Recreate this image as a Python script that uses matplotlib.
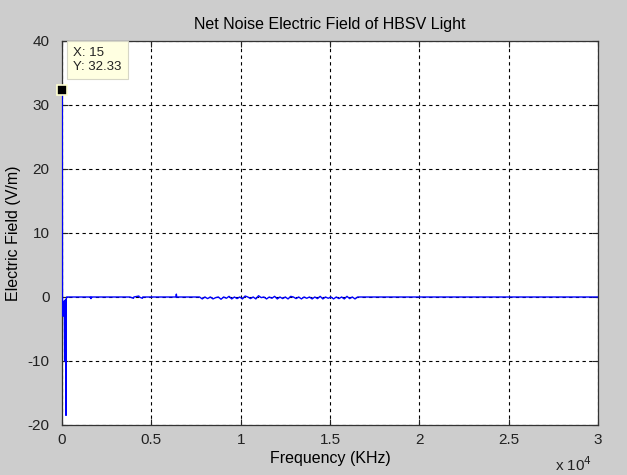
import matplotlib
matplotlib.use("Agg")
from matplotlib import pyplot as plt

plt.rcParams['font.family'] = ['Liberation Sans', 'DejaVu Sans']
plt.rcParams['axes.unicode_minus'] = False

# low-frequency part (Hz), where the big spikes are
freq_low = [0, 15, 25, 35, 45, 55, 65, 75, 85, 95, 110, 130, 150, 165, 180,
            195, 210, 224, 240, 260, 300, 1000, 1600, 1620, 1640, 3800, 4000,
            4020, 4300, 4320, 4500, 4520, 6000, 6380, 6400, 6420, 7700]
field_low = [0.0, 32.33, -1.0, -2.8, -0.6, -3.0, -0.8, -2.5, -1.2, -2.0,
             -0.9, -1.8, -10.0, -0.5, -2.2, -1.0, -0.4, -18.5, -0.3, 0.0,
             0.0, 0.0, 0.0, -0.25, 0.0, 0.0, -0.2, 0.0, 0.15, 0.0, -0.2, 0.0,
             0.0, 0.0, 0.45, 0.0, 0.0]

# noisy band from 7.85 kHz to 16.6 kHz, 150 Hz steps
freq_band = list(range(7850, 16700, 150))
field_band = [-0.3, 0.0, -0.25, 0.0, -0.3, -0.1, 0.0, -0.35, 0.0, -0.2,
              0.1, -0.3, 0.0, -0.25, 0.0, -0.3, 0.15, 0.0, -0.25, 0.0,
              -0.3, 0.2, -0.1, 0.0, -0.3, 0.0, -0.2, 0.1, -0.3, 0.0,
              -0.25, 0.0, -0.3, 0.1, 0.0, -0.25, 0.0, -0.3, 0.0, -0.2,
              0.0, -0.3, 0.0, -0.25, 0.1, -0.3, 0.0, -0.2, 0.0, -0.3,
              0.0, -0.25, 0.0, -0.3, 0.1, -0.25, 0.0, -0.3, 0.0, 0.0]

# flat tail up to 30 kHz
freq_high = [16800, 20000, 25000, 30000]
field_high = [0.0, 0.0, 0.0, 0.0]

freq = freq_low + freq_band + freq_high
field = field_low + field_band[:len(freq_band)] + field_high

x_ticks = [0, 5000, 10000, 15000, 20000, 25000, 30000]
x_tick_labels = ['0', '0.5', '1', '1.5', '2', '2.5', '3']
y_ticks = [-20, -10, 0, 10, 20, 30, 40]

tip_x, tip_y = 15, 32.33

fig = plt.figure(figsize=(6.27, 4.75), dpi=100, facecolor='#cdcdcd')
ax = fig.add_axes([62 / 627, 1 - 425 / 475, 536 / 627, 384 / 475])
ax.set_facecolor('white')

ax.plot(freq, field, color='#0000ff', linewidth=1.0, zorder=3)

ax.set_xlim(0, 30000)
ax.set_ylim(-20, 40)
ax.set_xticks(x_ticks)
ax.set_xticklabels(x_tick_labels)
ax.set_yticks(y_ticks)
ax.tick_params(direction='in', top=True, right=True, length=4, width=0.8,
               labelsize=11, colors='#222222', pad=9)
ax.tick_params(axis='x', pad=6)
for s in ax.spines.values():
    s.set_color('#333333')
    s.set_linewidth(0.9)

ax.grid(True, color='black', linestyle=(0, (3, 3)), linewidth=0.8)

ax.set_title('Net Noise Electric Field of HBSV Light', fontsize=11.5, pad=9)
ax.set_xlabel('Frequency (KHz)', fontsize=11.5, labelpad=3)
ax.set_ylabel('Electric Field (V/m)', fontsize=11.5, labelpad=5)
fig.text(574 / 627, 1 - 465 / 475, r'x 10$^4$', fontsize=11, color='#222222',
         ha='center', va='center')

# data tip on the peak
ax.plot([tip_x], [tip_y], marker='s', markersize=7, color='black',
        markeredgecolor='#ffffd0', markeredgewidth=1.2, clip_on=False, zorder=5)
ax.annotate('X: 15\nY: 32.33', xy=(tip_x, tip_y), xytext=(11, 43),
            textcoords='offset pixels', fontsize=9.5, color='#222222',
            va='top', ha='left', linespacing=1.25, zorder=6,
            bbox=dict(boxstyle='square,pad=0.45', facecolor='#ffffe1',
                      edgecolor='#d6d6c6', linewidth=0.8))

fig.savefig('out.png', dpi=100, facecolor=fig.get_facecolor())
